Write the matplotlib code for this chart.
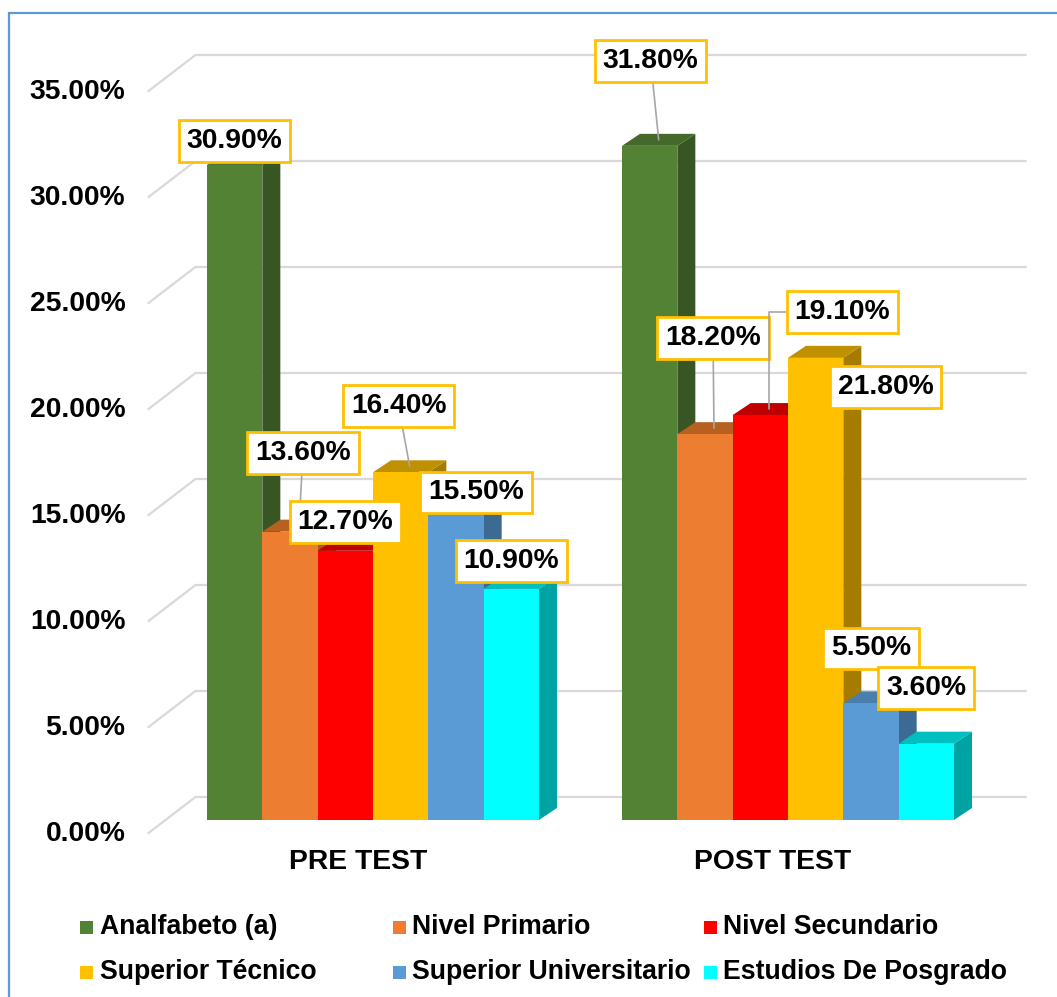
import matplotlib
matplotlib.use("Agg")
from matplotlib import pyplot as plt
from matplotlib.patches import Polygon, Rectangle
from matplotlib.lines import Line2D
from matplotlib.transforms import IdentityTransform

categories = ["PRE TEST", "POST TEST"]
series = ["Analfabeto (a)", "Nivel Primario", "Nivel Secundario",
          "Superior Técnico", "Superior Universitario", "Estudios De Posgrado"]
pre_test = [30.9, 13.6, 12.7, 16.4, 15.5, 10.9]
post_test = [31.8, 18.2, 19.1, 21.8, 5.5, 3.6]
y_ticks = [0, 5, 10, 15, 20, 25, 30, 35]

front_colors = ["#548235", "#ED7D31", "#FF0000", "#FFC000", "#5B9BD5", "#00FFFF"]
side_colors = ["#375623", "#A9591F", "#C00000", "#A67C00", "#3D6A92", "#00A3A3"]
top_colors = ["#44692A", "#B8601F", "#C00000", "#BF9000", "#4A7EAF", "#00BFBF"]

# where each value box sits, pixels from the front top of its bar
label_offsets = [
    [(0, 24), (13, 79), (0, 29), (-2, 66), (20, -1), (0, 28)],
    [(1, 85), (8, 96), (82, 103), (70, -29), (0, 55), (0, 56)],
]
leaders = [[False, True, False, True, False, False],
           [True, True, True, False, False, False]]

plt.rcParams['font.family'] = ['Liberation Sans', 'DejaVu Sans']
plt.rcParams['font.weight'] = 'bold'
FS = 20.3

W, H = 1057, 997
fig = plt.figure(figsize=(W / 100, H / 100), dpi=100)
ax = fig.add_axes([165.5 / W, (H - 820) / H, 830 / W, 742 / H])
ax.set_xlim(-0.5, 1.5)
ax.set_ylim(0, 35)
ax.axis('off')

# depth of the bars and of the back wall, in pixels
BAR_DX, BAR_DY = 18, 12
WALL_DX, WALL_DY = 30, 23
FRONT_DX, FRONT_DY = -17, -13


def to_px(x, v, dx=0, dy=0):
    px, py = ax.transData.transform((x, v))
    return (px + dx, py + dy)


# back wall gridlines and the diagonal ticks on the left
for t in y_ticks:
    a = to_px(-0.5, t, FRONT_DX, FRONT_DY)
    b = to_px(-0.5, t, WALL_DX, WALL_DY)
    c = to_px(1.5, t, WALL_DX, WALL_DY)
    ax.add_line(Line2D([a[0], b[0], c[0]], [a[1], b[1], c[1]], color="#D9D9D9",
                       lw=1.6, transform=IdentityTransform(), clip_on=False, zorder=1))
    lx, ly = to_px(-0.5, t, FRONT_DX - 23, FRONT_DY - 1)
    ax.text(lx, ly, f"{t:.2f}%", transform=IdentityTransform(), ha='right',
            va='center', fontsize=FS, fontweight='bold')

n = len(series)
width = 0.8 / n
groups = [pre_test, post_test]

for g, values in enumerate(groups):
    for i, v in enumerate(values):
        x = g - 0.4 + width * (i + 0.5)
        z = 10 + 2 * i
        fr = to_px(x + width / 2, 0)
        tr = to_px(x + width / 2, v)
        tl = to_px(x - width / 2, v)
        side = [fr, tr, (tr[0] + BAR_DX, tr[1] + BAR_DY), (fr[0] + BAR_DX, fr[1] + BAR_DY)]
        top = [tl, tr, (tr[0] + BAR_DX, tr[1] + BAR_DY), (tl[0] + BAR_DX, tl[1] + BAR_DY)]
        ax.add_patch(Polygon(side, closed=True, facecolor=side_colors[i], edgecolor='none',
                             transform=IdentityTransform(), clip_on=False, zorder=z))
        ax.add_patch(Polygon(top, closed=True, facecolor=top_colors[i], edgecolor='none',
                             transform=IdentityTransform(), clip_on=False, zorder=z))
        ax.bar(x, v, width, color=front_colors[i], zorder=z + 1, clip_on=False)

        ox, oy = label_offsets[g][i]
        tx, ty = ox - BAR_DX / 2, oy - BAR_DY / 2
        arrow = None
        if leaders[g][i]:
            style = "angle,angleA=0,angleB=90,rad=0" if ox > 50 else "arc3"
            arrow = dict(arrowstyle='-', color="#A6A6A6", lw=1.2, shrinkA=0, shrinkB=0,
                         connectionstyle=style)
        ax.annotate(f"{v:.2f}%", xy=to_px(x, v, BAR_DX / 2, BAR_DY / 2), xycoords='figure pixels',
                    xytext=(tx, ty), textcoords='offset pixels', ha='center', va='center',
                    fontsize=FS, fontweight='bold', annotation_clip=False, zorder=100,
                    bbox=dict(boxstyle='square,pad=0.28', facecolor='white',
                              edgecolor='#FFC000', lw=2),
                    arrowprops=arrow)

# category names under each group
for g, name in enumerate(categories):
    cx, cy = to_px(g, 0, -15, -42)
    ax.text(cx, cy, name, transform=IdentityTransform(), ha='center', va='center',
            fontsize=FS, fontweight='bold')

# legend, two rows of three
col_x = [86.5, 399, 710]
row_y = [H - 927, H - 972]
for i, name in enumerate(series):
    mx = col_x[i % 3]
    my = row_y[i // 3]
    fig.patches.append(Rectangle((mx - 6.5, my - 6.5), 13, 13, facecolor=front_colors[i],
                                 edgecolor='none', transform=IdentityTransform(), figure=fig))
    fig.text(mx + 13, my, name, transform=IdentityTransform(), ha='left', va='center',
             fontsize=19.2, fontweight='bold')

# chart border
fig.patches.append(Rectangle((9 / W, -0.1), 1.2, 1.1 - 13 / H, fill=False,
                             edgecolor='#5B9BD5', lw=1.6, transform=fig.transFigure, figure=fig))

fig.savefig("out.png", dpi=100)
